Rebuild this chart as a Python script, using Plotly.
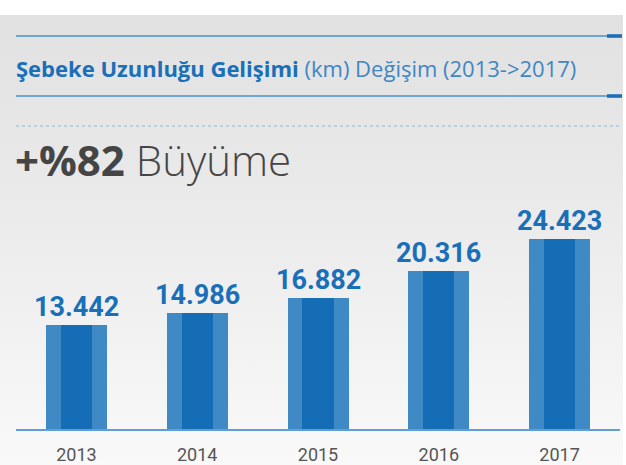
import base64
import plotly.graph_objects as go

years = ["2013", "2014", "2015", "2016", "2017"]
lengths_km = [13442, 14986, 16882, 20316, 24423]
value_labels = ["13.442", "14.986", "16.882", "20.316", "24.423"]
title_bold = "Şebeke Uzunluğu Gelişimi"
title_rest = " (km) Değişim (2013->2017)"
growth_bold = "+%82"
growth_rest = " Büyüme"

W, H = 626, 465

def px(x):
    return x / W

def py(y):
    return 1 - y / H

OUTER = "#3f89c5"
INNER = "#146db5"
LABEL = "#1a6fb9"

fig = go.Figure()
fig.add_trace(go.Bar(x=years, y=lengths_km, width=0.505, marker=dict(color=OUTER, line=dict(width=0)),
                     hoverinfo="skip", showlegend=False))
fig.add_trace(go.Bar(x=years, y=lengths_km, width=0.257, marker=dict(color=INNER, line=dict(width=0)),
                     hoverinfo="skip", showlegend=False))

for i, (v, lab) in enumerate(zip(lengths_km, value_labels)):
    fig.add_annotation(x=i, y=v, xref="x", yref="y", text="<b>" + lab + "</b>", showarrow=False,
                       yanchor="bottom", yshift=0,
                       font=dict(family="Roboto", size=27, color=LABEL))

# background panel with gradient
svg = ('<svg xmlns="http://www.w3.org/2000/svg" width="623" height="450">'
       '<defs><linearGradient id="g" x1="0" y1="0" x2="0" y2="1">'
       '<stop offset="0" stop-color="#e1e1e1"/><stop offset="0.45" stop-color="#ebebeb"/>'
       '<stop offset="1" stop-color="#f9f9f9"/></linearGradient></defs>'
       '<rect width="623" height="450" fill="url(#g)"/></svg>')
src = "data:image/svg+xml;base64," + base64.b64encode(svg.encode()).decode()
fig.add_layout_image(dict(source=src, xref="paper", yref="paper", x=0, y=py(15),
                          sizex=px(623), sizey=(450) / H, xanchor="left", yanchor="top",
                          sizing="stretch", layer="below"))

shapes = []
for ly in (36, 96):
    shapes.append(dict(type="line", xref="paper", yref="paper", x0=px(16), x1=px(608),
                       y0=py(ly), y1=py(ly), line=dict(color="#4a8fcc", width=1.5)))
    shapes.append(dict(type="rect", xref="paper", yref="paper", x0=px(607), x1=px(622),
                       y0=py(ly - 1.8), y1=py(ly + 1.8), fillcolor="#1a6fb9", line=dict(width=0)))
shapes.append(dict(type="line", xref="paper", yref="paper", x0=px(16), x1=px(622),
                   y0=py(126), y1=py(126), line=dict(color="#8fb6dc", width=1.2, dash="dot")))
fig.update_layout(shapes=shapes)

fig.add_annotation(xref="paper", yref="paper", x=px(14), y=py(68), xanchor="left", yanchor="middle",
                   showarrow=False,
                   text="<b>" + title_bold + "</b><span style='color:#3f86c6'>" + title_rest + "</span>",
                   font=dict(family="Open Sans", size=22, color="#1a6fb9"))
fig.add_annotation(xref="paper", yref="paper", x=px(13), y=py(159), xanchor="left", yanchor="middle",
                   showarrow=False,
                   text="<b>" + growth_bold + "</b><span style='font-weight:300'>" + growth_rest + "</span>",
                   font=dict(family="Open Sans", size=42, color="#454545"))

fig.update_layout(
    width=W, height=H,
    margin=dict(l=0, r=0, t=0, b=0),
    paper_bgcolor="white", plot_bgcolor="rgba(0,0,0,0)",
    barmode="overlay", bargap=0,
    xaxis=dict(type="category", domain=[px(16), px(620)], range=[-0.5, 4.5], showgrid=False, zeroline=False,
               showline=True, linecolor="#5e9fd6", linewidth=2,
               ticks="outside", ticklen=8, tickcolor="rgba(0,0,0,0)",
               tickfont=dict(family="Roboto", size=18, color="#555555")),
    yaxis=dict(domain=[py(429), py(200)], range=[0, (429 - 200) / 0.007767], visible=False,
               showgrid=False, zeroline=False),
)

fig.write_html("out.html", config={"displayModeBar": False},
               post_script="document.body.style.margin='0';document.body.style.overflow='hidden';")
